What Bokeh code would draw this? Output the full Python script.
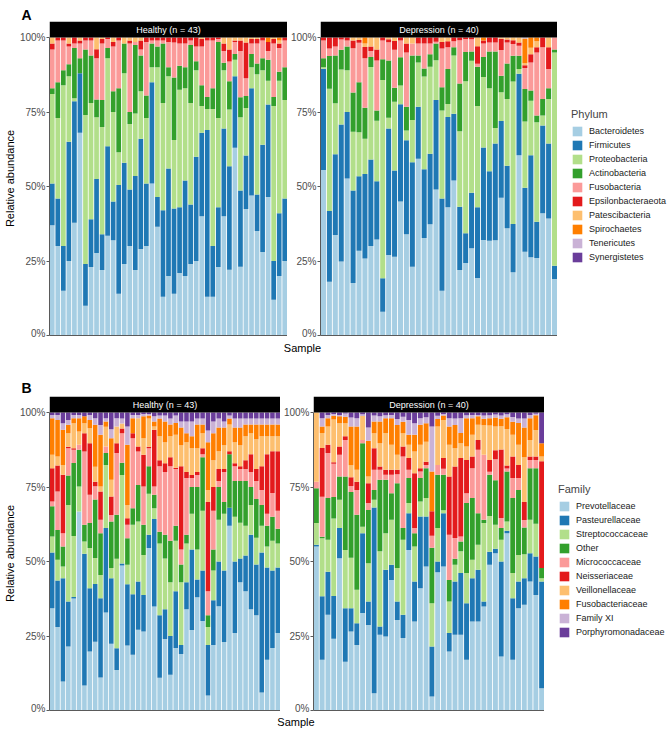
from bokeh.plotting import figure
from bokeh.layouts import column, row
from bokeh.models import (ColumnDataSource, Range1d, FixedTicker, NumeralTickFormatter,
                          Legend, LegendItem)
from bokeh.core.properties import value
from bokeh.embed import file_html
from bokeh.resources import INLINE

FONT = "Liberation Sans"

# ---------------- categories / colours ----------------
phyla = ["Bacteroidetes", "Firmicutes", "Proteobacteria", "Actinobacteria", "Fusobacteria",
         "Epsilonbacteraeota", "Patescibacteria", "Spirochaetes", "Tenericutes", "Synergistetes"]
families = ["Prevotellaceae", "Pasteurellaceae", "Streptococcaceae", "Other", "Micrococcaceae",
            "Neisseriaceae", "Veillonellaceae", "Fusobacteriaceae", "Family XI", "Porphyromonadaceae"]
palette = ["#A6CEE3", "#1F78B4", "#B2DF8A", "#33A02C", "#FB9A99",
           "#E31A1C", "#FDBF6F", "#FF7F00", "#CAB2D6", "#6A3D9A"]

healthy_label = "Healthy (n = 43)"
depression_label = "Depression (n = 40)"
x_title = "Sample"
y_title = "Relative abundance"

# ---------------- Panel A : phylum, healthy (43 samples, %) ----------------
a_h_bacteroidetes = [37, 30, 15, 25, 38, 68, 10, 23, 28, 22, 33.5, 32, 14, 24, 30, 22, 29, 30, 51, 36.5,
                     13, 20, 14, 21, 20, 24, 25, 40, 13, 13, 23, 40, 22, 63, 23, 42.6, 47, 35, 28, 46.5,
                     12, 20, 25]
a_h_firmicutes = [14, 16, 15, 40, 41, 20, 14, 16, 25, 12, 30, 13, 36.5, 34, 19, 31.5, 37, 21, 34, 10,
                  29, 36, 28.6, 22, 32, 20, 35, 28, 56, 17, 20, 29.5, 34.6, 24, 25.6, 18, 36, 12.3, 36, 31,
                  13, 21, 21]
a_h_proteobacteria = [30, 27, 54, 22, 1, 0, 50, 39, 21, 36, 29.5, 30, 11, 30, 22, 21, 16, 22, 5, 43.5,
                      36, 31, 23, 39.5, 31, 34, 29, 9, 7, 46, 30, 19.5, 19, 5.5, 24.5, 16, 7, 40.3, 25, 8,
                      52, 44.5, 33]
a_h_actinobacteria = [2, 12, 5, 4, 17, 5, 22, 16, 6, 9, 3.5, 7, 21.5, 10, 4, 23, 12, 7.5, 8, 7,
                      20, 3, 21, 8, 7, 19.5, 3, 7, 4, 7, 25.5, 2.5, 9.5, 2, 6.7, 4, 4.5, 3.6, 4, 7,
                      3, 3, 11]
a_h_fusobacteria = [13, 14, 10, 6, 1.5, 5, 3, 5, 14, 19, 3, 15, 16, 0, 23, 1, 2, 18, 1, 2,
                    1, 8.5, 11.7, 7.5, 8, 1.5, 5, 13, 19, 16, 1, 4, 6.6, 4, 15.5, 6, 3.5, 6.7, 6, 3,
                    18, 8, 9]
a_h_epsilonbacteraeota = [2, 1, 1, 1, 2, 1, 1, 1, 3, 1.5, 0.5, 1.5, 1, 0, 1, 0, 3, 1.5, 1, 1,
                          1, 1.5, 1.7, 2, 2, 1, 3, 2.5, 1, 1, 0.5, 2.5, 4, 0.5, 3.5, 12, 1.5, 1.5, 1, 3,
                          1.5, 1.5, 1]
a_h_patescibacteria = [2, 0, 0, 2, 0, 1, 0, 0, 4, 0.5, 0, 1.5, 0, 2, 1, 1.5, 1, 0, 0, 0,
                       0, 0, 0, 0, 0, 0, 0, 0.5, 0, 0, 0, 2, 4, 1, 1, 1.7, 0.5, 0.5, 0, 0,
                       0.5, 1, 0]
a_h_spirochaetes = [0, 0, 0, 0, 0, 0, 0, 0, 0, 0, 0, 0, 0, 0, 0, 0, 0, 0, 0, 0,
                    0, 0, 0, 0, 0, 0, 0, 0, 0, 0, 0, 0, 0, 0, 0, 0, 0, 0, 0, 1.5,
                    0, 1, 0]
a_h_tenericutes = [0, 0, 0, 0, 0, 0, 0, 0, 0, 0, 0, 0, 0, 0, 0, 0, 0, 0, 0, 0,
                   0, 0, 0, 0, 0, 0, 0, 0, 0, 0, 0, 0, 0, 0, 0, 0, 0, 0, 0, 0,
                   0, 0, 0]
a_h_synergistetes = [0, 0, 0, 0, 0, 0, 0, 0, 0, 0, 0, 0, 0, 0, 0, 0, 0, 0, 0, 0,
                     0, 0, 0, 0, 0, 0, 0, 0, 0, 0, 0, 0, 0, 0, 0, 0, 0, 0, 0, 0,
                     0, 0, 0]

# ---------------- Panel A : phylum, depression (40 samples, %) ----------------
a_d_bacteroidetes = [55.5, 18, 33.6, 24.8, 52.7, 17.6, 28.4, 25.8, 30, 32, 8, 27, 26.4, 45, 34, 23, 59.3, 32.6, 37.3, 49,
                     15, 43, 52, 22, 24.3, 29.3, 19.5, 32, 31.8, 32, 46.2, 36, 21.2, 60.5, 28.2, 26.3, 26, 41, 39.3, 19]
a_d_firmicutes = [34, 23.7, 27, 46, 22.3, 31, 25, 28.4, 29, 19.4, 11.2, 42.5, 29, 32.6, 31.5, 35, 17.5, 23, 23.7, 30,
                  31, 30.3, 22.4, 21.2, 10, 18.6, 24, 31, 23.3, 32.4, 25.8, 21, 16.2, 27.3, 21.5, 34.2, 12.2, 29.5, 25.1, 4.4]
a_d_proteobacteria = [0.5, 41, 17, 18.5, 14, 19.6, 14.8, 11.8, 31, 20.2, 66.5, 3.6, 23, 6.3, 3.3, 14.2, 14.8, 31, 29.2, 13.4,
                      29.5, 4.4, 19.6, 25.3, 51, 44.3, 34.3, 23.6, 27.9, 5.2, 9.6, 22.4, 47.8, 1.6, 22.3, 18.3, 33.4, 3.3, 15, 71.6]
a_d_actinobacteria = [3, 11, 16, 6.6, 8, 13.2, 16.8, 10.4, 3.4, 3.4, 7, 19.2, 4.7, 9.5, 8, 21.6, 2.4, 2.6, 4.2, 5.6,
                      7.8, 11.7, 2.7, 16.1, 9.8, 3.1, 13.3, 6.7, 12.3, 25.7, 5.6, 11.9, 8.7, 4.5, 11, 3.4, 2.2, 5.6, 3.6, 1]
a_d_fusobacteria = [6, 2.5, 3, 3.4, 2, 14.8, 13.2, 16.6, 2, 16.6, 6.3, 6.1, 12.8, 5.6, 18.2, 4, 4, 8.4, 3.6, 0.6,
                    13, 7.3, 2, 14.5, 4.4, 4.1, 1, 4.5, 3, 3, 8.6, 7, 3.9, 3.3, 7, 9.4, 21.2, 17.3, 6.4, 4]
a_d_epsilonbacteraeota = [1, 3.7, 3, 0.7, 1, 2.6, 1, 3.8, 1.5, 3.7, 1, 1, 2.9, 1, 3, 0, 2, 2, 2, 1.4,
                          2.2, 2, 1.3, 0.9, 0.5, 0.6, 5.9, 1, 1.7, 1.7, 3.8, 1, 1.3, 1.1, 1, 2.8, 1.7, 3.3, 7.3, 0]
a_d_patescibacteria = [0, 0, 0, 0, 0, 1, 0.8, 1.2, 3, 4, 0, 0.6, 1.2, 0, 2, 2, 0, 0, 0, 0,
                       1.5, 1.3, 0, 0, 0, 0, 3, 0, 0, 0, 0.4, 0.7, 0.9, 1.7, 0.6, 2.2, 2, 0, 3.3, 0]
a_d_spirochaetes = [0, 0, 0, 0, 0, 0, 0, 2, 0, 0, 0, 0, 0, 0, 0, 0, 0, 0, 0, 0,
                    0, 0, 0, 0, 0, 0, 0, 1, 0, 0, 0, 0, 0, 0, 8.4, 3.4, 1.3, 0, 0, 0]
a_d_tenericutes = [0, 0, 0, 0, 0, 0, 0, 0, 0, 0, 0, 0, 0, 0, 0, 0, 0, 0, 0, 0,
                   0, 0, 0, 0, 0, 0, 0, 0, 0, 0, 0, 0, 0, 0, 0.3, 0, 0, 0, 0, 0]
a_d_synergistetes = [0, 0, 0, 0, 0, 0, 0, 0, 0, 0, 0, 0, 0, 0, 0, 0, 0, 0, 0, 0,
                     0, 0, 0, 0, 0, 0, 0, 0, 0, 0, 0, 0, 0, 0, 0, 0, 0, 0, 0, 0]

# ---------------- Panel B : family, healthy (43 samples, %) ----------------
b_h_prevotellaceae = [34.3, 28, 9.7, 21.5, 37.7, 66.8, 8.4, 19.8, 22.9, 11.1, 32.9, 22.4, 13.6, 48.7, 21.8, 18.7, 27.1, 26.5, 54.5, 34.9,
                      11, 24, 12, 21, 19, 34, 27, 38, 30, 5, 22, 35, 23, 62, 26, 43, 40, 34, 32, 6, 17, 21, 26]
b_h_pasteurellaceae = [18.7, 15.6, 34.7, 15.1, 0.5, 0, 44.2, 21.2, 19.3, 26.6, 28.3, 22, 7.3, 0.7, 20.6, 20.3, 16.2, 12.3, 4.5, 29.4,
                       21, 10, 13, 19, 3, 9, 27, 6, 17, 17, 15, 15, 24, 6, 24, 8, 12, 25, 17, 47, 31, 26, 22]
b_h_streptococcaceae = [5.4, 7, 3.9, 32.4, 20.5, 8.4, 4.1, 13.5, 8.7, 7.8, 21.2, 3.4, 30, 29.7, 6.5, 23.3, 20.1, 13.4, 13.7, 3.6,
                        24, 17, 18, 17, 21, 13, 12, 10, 20, 6, 10, 14, 19, 0, 15, 12, 10, 10, 9, 9, 7, 10, 8]
b_h_other = [10.1, 10, 6.7, 9.9, 24.6, 12.3, 5.6, 8.4, 19.5, 14, 4, 15.6, 14.8, 4.1, 8.9, 5.6, 12.3, 10.1, 9.3, 4.5,
             4, 8, 14, 5, 6, 3, 9, 21, 18, 4, 7, 11, 4, 18, 12, 14, 15, 6, 13, 7, 7, 8, 5]
b_h_micrococcaceae = [1.6, 12.9, 4.5, 9.1, 4.5, 1.7, 24.6, 9.5, 4.4, 4.5, 2.2, 2.2, 20.7, 9.9, 4.5, 23.5, 11.2, 12.9, 6, 2.8,
                      22, 21, 25, 19, 5, 19, 3, 4, 1, 8, 13, 2, 10, 0, 5, 4, 4, 5, 6, 5, 4, 8, 6]
b_h_neisseriaceae = [11.2, 8.7, 19.6, 0.5, 0.5, 0, 6.1, 17.3, 1.5, 9.5, 0, 6.2, 3.3, 1.6, 2.2, 1.6, 1.7, 10.6, 0.5, 19,
                     2, 3, 3, 0.5, 28, 2, 1, 1, 2, 30, 8, 4, 1, 1, 1, 1, 3, 6, 4, 8, 20, 14, 20]
b_h_veillonellaceae = [4.5, 3, 3.3, 4.5, 8.4, 4.4, 3.4, 5, 5, 1.7, 6.6, 5.6, 5.6, 1.7, 4.5, 0, 9.5, 5.6, 9.5, 1.1,
                       8, 7, 7, 11, 7, 10, 9, 8, 5, 4, 9, 6, 8, 9, 7, 7, 8, 7, 10, 10, 6, 5, 5]
b_h_fusobacteriaceae = [12.3, 12.3, 11.8, 2.9, 1.7, 4.5, 2.3, 2.8, 14, 17.3, 1.8, 14, 0, 0, 20.2, 5.1, 0, 7.3, 1, 1.7,
                        6, 7, 4, 4, 6, 3, 4, 8, 3, 16, 9, 8, 6, 2, 5, 6, 4, 3, 5, 4, 4, 4, 4]
b_h_family_xi = [1.1, 1.7, 2.2, 1.6, 1.1, 1.1, 0, 1.7, 2.2, 3.3, 1.1, 3, 2.8, 1.7, 6.1, 1.1, 1.1, 0.8, 0.5, 1.7,
                 1, 2, 2, 2.5, 2, 4, 5, 2, 2, 4, 4, 3, 2, 1, 3, 3, 2, 2, 2, 2, 2, 2, 2]
b_h_porphyromonadaceae = [0.8, 0.8, 3.6, 2.5, 0.8, 0.8, 1.3, 0.8, 1.9, 4.2, 1.9, 5.6, 1.9, 2, 4.7, 0.8, 0.8, 0.5, 0.5, 1.3,
                          1, 1, 2, 1, 3, 3, 3, 2, 2, 6, 3, 2, 3, 1, 2, 2, 2, 2, 2, 2, 2, 2, 2]

# ---------------- Panel B : family, depression (40 samples, %) ----------------
b_d_prevotellaceae = [55, 17, 32.1, 24.3, 51.1, 16.4, 26.5, 22, 32.7, 28.7, 5.8, 25.4, 24.8, 43.8, 30.4, 24.3, 53.9, 29.9, 41, 48.3,
                      4.7, 46.4, 48.3, 19.8, 25.4, 25.4, 17, 29.9, 29.9, 34.9, 48.9, 52.8, 18.1, 59.5, 17, 34.3, 35.5, 43.3, 38.8, 7.5]
b_d_pasteurellaceae = [0.6, 21.3, 14.5, 14.5, 10.1, 17.9, 7.8, 7.3, 26.8, 7.9, 62.3, 2.8, 22.4, 5.1, 6.2, 7.8, 12.3, 13.4, 24.1, 16.8,
                       16.8, 3.6, 17.9, 6.2, 17.9, 20.7, 19, 14.5, 17.3, 1.7, 4.4, 1.5, 31.9, 0.8, 20.7, 9, 8.9, 9.5, 12.9, 35.8]
b_d_streptococcaceae = [7.3, 19.5, 10.7, 26.3, 9.5, 19.6, 17, 11.2, 2.2, 12.8, 2.6, 25.2, 12.3, 15.1, 11.2, 25.2, 3.4, 11.7, 5, 6.2,
                        14.5, 11.2, 1, 10.6, 5.6, 7.3, 10.1, 6.2, 8.4, 26.3, 12, 8, 7.3, 3.1, 8.4, 8.9, 8, 11.2, 11, 1.1]
b_d_other = [11.7, 0.5, 14, 7.3, 7.8, 24.6, 22, 25.2, 28, 17.9, 3.3, 24, 17.9, 8.9, 28.5, 3.9, 8.4, 4.5, 7.9, 10,
             18.6, 17.9, 11.9, 7.2, 2, 3.3, 23.5, 20.7, 10.6, 1.1, 13.8, 15, 3.9, 16.8, 25.2, 21.8, 9, 17.3, 18.6, 3.4]
b_d_micrococcaceae = [2.2, 13.4, 15.1, 11.2, 7.3, 12.3, 2, 8.3, 1.1, 2.3, 6.8, 3.4, 1.7, 6.2, 3, 24, 2.8, 1.7, 2.2, 1.1,
                      4, 3.3, 2, 15.2, 7, 1.7, 3.3, 10, 21.3, 21.8, 1, 7, 3.4, 1, 6.7, 4, 2.5, 2.8, 2.8, 0]
b_d_neisseriaceae = [0, 16.4, 2.8, 0.5, 2.8, 1.2, 3, 2.8, 0, 6.7, 7.2, 1.1, 1.7, 1.7, 1.5, 3.4, 3.9, 18.4, 1.1, 1.1,
                     8.3, 0, 3.6, 19.5, 24, 26.3, 11.2, 3.9, 3.3, 0, 4, 3, 23, 1, 7.2, 4.4, 6.1, 1.1, 1.1, 35.8]
b_d_veillonellaceae = [23.2, 5, 6.1, 14.5, 7.8, 4.4, 4, 4, 8, 2.2, 5, 7.8, 12.3, 8.4, 5, 4.4, 4.5, 7.3, 7.9, 6.7,
                       0, 12.9, 12.8, 10.7, 6.1, 5, 4.5, 7.3, 5.1, 9.9, 11.5, 8, 7.8, 12.3, 7.3, 6.8, 15, 5.6, 8.9, 1.6]
b_d_fusobacteriaceae = [0, 2.2, 2.8, 1.3, 2.3, 2.2, 13, 14.5, 0, 12, 4, 7.3, 5, 8.9, 10, 3.9, 3.3, 5.6, 6.7, 6.2,
                        13.3, 2.5, 1.5, 6.1, 7.8, 3.4, 9.5, 5.6, 2.8, 2.2, 2.5, 3, 2.5, 3.9, 4.4, 7.3, 10, 7.3, 5, 4.5]
b_d_family_xi = [0, 2.8, 1.1, 0.6, 0.5, 1.1, 3, 2.8, 0.6, 4.5, 2, 1.7, 1, 1.1, 2, 1.7, 5, 3.9, 2.2, 2,
                 15.1, 1.1, 0.5, 2.8, 2.2, 5, 1, 1.1, 0.5, 1.1, 1, 1, 1.1, 1, 1.6, 1.5, 3, 1.1, 0.5, 0]
b_d_porphyromonadaceae = [0, 1.9, 0.8, 0.5, 0.8, 0.3, 1.7, 1.9, 0.6, 5, 1, 1.3, 0.9, 0.8, 2.2, 1.4, 2.5, 3.6, 1.9, 1.6,
                          4.7, 1.1, 0.5, 1.9, 2, 1.9, 0.9, 0.8, 0.8, 1, 0.9, 0.7, 1, 0.6, 1.5, 2, 2, 0.8, 0.4, 10.3]

A_healthy = [a_h_bacteroidetes, a_h_firmicutes, a_h_proteobacteria, a_h_actinobacteria, a_h_fusobacteria,
             a_h_epsilonbacteraeota, a_h_patescibacteria, a_h_spirochaetes, a_h_tenericutes, a_h_synergistetes]
A_depression = [a_d_bacteroidetes, a_d_firmicutes, a_d_proteobacteria, a_d_actinobacteria, a_d_fusobacteria,
                a_d_epsilonbacteraeota, a_d_patescibacteria, a_d_spirochaetes, a_d_tenericutes, a_d_synergistetes]
B_healthy = [b_h_prevotellaceae, b_h_pasteurellaceae, b_h_streptococcaceae, b_h_other, b_h_micrococcaceae,
             b_h_neisseriaceae, b_h_veillonellaceae, b_h_fusobacteriaceae, b_h_family_xi, b_h_porphyromonadaceae]
B_depression = [b_d_prevotellaceae, b_d_pasteurellaceae, b_d_streptococcaceae, b_d_other, b_d_micrococcaceae,
                b_d_neisseriaceae, b_d_veillonellaceae, b_d_fusobacteriaceae, b_d_family_xi, b_d_porphyromonadaceae]

# ---------------- layout constants (pixels) ----------------
FRAME_H = 314          # strip + data area
STRIP_H = 16
BOTTOM = 3
ROW_H = FRAME_H + BOTTOM
AXIS_GREY = "#5a5a5a"


def facet(series, strip_text, width, left, ylabel):
    n = len(series[0])
    totals = [sum(s[i] for s in series) for i in range(n)]
    keys = ["s%d" % k for k in range(len(series))]
    data = {"x": list(range(1, n + 1))}
    for k, s in zip(keys, series):
        data[k] = [s[i] / totals[i] for i in range(n)]   # position = "fill"
    src = ColumnDataSource(data)

    ytop = 1 + STRIP_H / (FRAME_H - STRIP_H)
    p = figure(width=width, height=ROW_H,
               x_range=Range1d(0.5, n + 0.5), y_range=Range1d(0, ytop),
               output_backend="svg", toolbar_location=None,
               min_border_left=left, min_border_right=0, min_border_top=0, min_border_bottom=BOTTOM)
    p.vbar_stack(keys, x="x", width=0.85, source=src, fill_color=palette, line_color=None)

    # facet strip
    p.quad(left=[0.5], right=[n + 0.5], bottom=[1.0], top=[ytop], fill_color="black", line_color=None)
    p.text(x=[(n + 1) / 2], y=[(1 + ytop) / 2], text=[strip_text], text_color="white",
           text_font=value(FONT), text_font_size="9px", text_align="center", text_baseline="middle")

    p.xgrid.visible = False
    p.ygrid.visible = False
    p.outline_line_color = None

    ya = p.yaxis[0]
    ya.ticker = FixedTicker(ticks=[0, 0.25, 0.5, 0.75, 1.0])
    ya.formatter = NumeralTickFormatter(format="0%")
    ya.bounds = (0, 1)
    ya.major_tick_out = 3
    ya.major_tick_in = 0
    ya.minor_tick_line_color = None
    ya.major_label_standoff = 1
    ya.major_label_text_font = FONT
    ya.major_label_text_font_size = "10px"
    ya.major_label_text_color = "#4d4d4d"
    ya.axis_line_color = AXIS_GREY
    ya.major_tick_line_color = AXIS_GREY
    if ylabel:
        ya.axis_label = ylabel
        ya.axis_label_text_font = FONT
        ya.axis_label_text_font_size = "11px"
        ya.axis_label_text_font_style = "normal"
        ya.axis_label_text_color = "black"
        ya.axis_label_standoff = 1

    xa = p.xaxis[0]
    xa.ticker = FixedTicker(ticks=[])
    xa.major_label_text_font_size = "0px"
    xa.major_label_standoff = 0
    xa.major_tick_out = 0
    xa.major_tick_in = 0
    xa.minor_tick_line_color = None
    xa.axis_line_color = AXIS_GREY
    return p


def legend_fig(labels, title, width):
    lf = figure(width=width, height=ROW_H, x_range=Range1d(0, 1), y_range=Range1d(0, 1),
                output_backend="svg", toolbar_location=None, min_border=0,
                x_axis_location=None, y_axis_location=None)
    lf.xgrid.visible = False
    lf.ygrid.visible = False
    lf.outline_line_color = None
    items = []
    for lab, col in zip(labels, palette):
        # legend key proxy only (hidden); the bars themselves live in the facet figures
        r = lf.vbar(x=[0.5], top=[1], width=0.5, fill_color=col, line_color=None, visible=False)
        items.append(LegendItem(label=lab, renderers=[r]))
    leg = Legend(items=items, location=(14, 72), title=title,
                 glyph_width=12, glyph_height=12, label_height=12, spacing=2,
                 label_standoff=6, padding=0, margin=0,
                 border_line_color=None, background_fill_alpha=0,
                 inactive_fill_alpha=0,
                 label_text_font=FONT, label_text_font_size="9px", label_text_color="#1a1a1a",
                 title_text_font=FONT, title_text_font_size="11px", title_text_font_style="normal",
                 title_standoff=5)
    lf.add_layout(leg)
    return lf


def text_fig(height, entries):
    tf = figure(width=670, height=height, x_range=Range1d(0, 670), y_range=Range1d(0, height),
                output_backend="svg", toolbar_location=None, min_border=0,
                x_axis_location=None, y_axis_location=None)
    tf.xgrid.visible = False
    tf.ygrid.visible = False
    tf.outline_line_color = None
    for txt, x, y, size, style, align, baseline in entries:
        tf.text(x=[x], y=[y], text=[txt], text_font=value(FONT), text_font_size=size,
                text_font_style=style, text_align=align, text_baseline=baseline, text_color="black")
    return tf


# Panel A
tag_a = text_fig(21, [("A", 21, 7, "14px", "bold", "left", "alphabetic")])
pa_h = facet(A_healthy, healthy_label, 287, 47, y_title)
pa_d = facet(A_depression, depression_label, 270, 30, None)
la = legend_fig(phyla, "Phylum", 113)
sample_a = text_fig(18, [(x_title, (47 + 557) / 2, 9, "11px", "normal", "center", "middle")])

# Panel B
tag_b = text_fig(40, [("B", 21, 9, "14px", "bold", "left", "alphabetic")])
pb_h = facet(B_healthy, healthy_label, 280, 47, y_title)
pb_d = facet(B_depression, depression_label, 264, 30, None)
lb = legend_fig(families, "Family", 126)
sample_b = text_fig(17, [(x_title, (47 + 544) / 2, 8.5, "11px", "normal", "center", "middle")])

page = column(tag_a, row(pa_h, pa_d, la), sample_a, tag_b, row(pb_h, pb_d, lb), sample_b)

open("out.html", "w").write(file_html(page, INLINE))
